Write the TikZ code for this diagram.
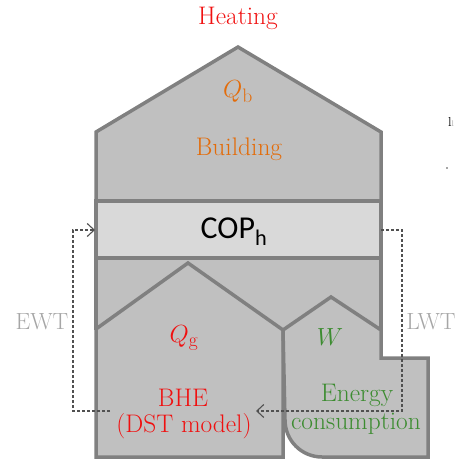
\documentclass[tikz,border=0pt]{standalone}
\usepackage{fontspec}
\usetikzlibrary{arrows.meta}
\newfontfamily\copfont{Carlito}
\definecolor{wallgray}{HTML}{808080}
\definecolor{fillgray}{HTML}{C0C0C0}
\definecolor{copgray}{HTML}{D9D9D9}
\definecolor{orng}{HTML}{E36C0A}
\definecolor{redt}{HTML}{F01010}
\definecolor{greent}{HTML}{3C8C30}
\definecolor{lablgray}{HTML}{A6A6A6}
\definecolor{dashgray}{HTML}{505050}
\tikzset{
  wall/.style={draw=wallgray, line width=3.5bp, line join=miter, fill=fillgray},
  flow/.style={draw=dashgray, line width=1.1bp, dash pattern=on 3bp off 2bp},
  tip/.style={-{Straight Barb[length=7bp,width=13bp,line width=1.1bp]}},
  lbl/.style={inner sep=0pt, font=\fontsize{25.5}{30}\selectfont},
  sidelbl/.style={inner sep=0pt, font=\fontsize{23.5}{28}\selectfont, text=lablgray},
  mathlbl/.style={inner sep=0pt, font=\fontsize{28}{32}\selectfont},
}
\begin{document}
\begin{tikzpicture}[x=1bp,y=-1bp]
\useasboundingbox (0,0) rectangle (468,460);
% lower band
\fill[fillgray] (96,257) rectangle (381,331);
% BHE house
\path[wall] (96,329) -- (188,263) -- (283,330) -- (283,457) -- (96,457) -- cycle;
% W house
\path[wall] (283,330) -- (331,297) -- (381,330) -- (381,358) -- (428,358) -- (428,457) -- (322,457) arc[start angle=90,end angle=180,radius=37] -- cycle;
% outer side walls of lower band
\draw[draw=wallgray, line width=3.5bp] (96,257) -- (96,330);
\draw[draw=wallgray, line width=3.5bp] (381,257) -- (381,331);
% building
\path[wall] (96,201) -- (96,132) -- (238,47) -- (381,132) -- (381,201) -- cycle;
% COP box
\path[wall, fill=copgray] (96,201) rectangle (381,258);

% labels
\node[lbl, text=redt] (heating) at (238,18) {Heating};
\node[mathlbl, text=orng] (qb) at (238,92) {$Q_{\mathrm{b}}$};
\node[lbl, text=orng] (building) at (239,149) {Building};
\node[inner sep=0pt, font=\copfont\fontsize{32}{36}\selectfont] (cop) at (234,232) {COP\textsubscript{h}};
\node[mathlbl, text=redt] (qg) at (184,338) {$Q_{\mathrm{g}}$};
\node[mathlbl, text=greent] (w) at (330,337) {$W$};
\node[lbl, text=redt] (bhe) at (183,398) {BHE};
\node[lbl, text=redt] (dst) at (184,426) {(DST model)};
\node[lbl, text=greent] (energy) at (357,395) {Energy};
\node[lbl, text=greent] (cons) at (356,424) {consumption};
\node[sidelbl] (ewt) at (42,322) {EWT};
\node[sidelbl] (lwt) at (431,322) {LWT};
\node[inner sep=0pt, font=\fontsize{13}{13}\selectfont] (frag) at (451,122) {l\textcolor{lablgray}{\fontsize{8}{8}\selectfont l}};
\node[fill=lablgray, inner sep=0pt, minimum size=1.5bp] (dot) at (447,168) {};

% flows
\coordinate (ewtA) at (110,411);
\coordinate (ewtB) at (73,411);
\coordinate (ewtC) at (73,230);
\coordinate (ewtD) at (95,230);
\coordinate (lwtA) at (381,230);
\coordinate (lwtB) at (402,230);
\coordinate (lwtC) at (402,411);
\coordinate (lwtD) at (256,411);
\draw[flow, tip] (ewtA) -- (ewtB) -- (ewtC) -- (ewtD);
\draw[flow, tip] (lwtA) -- (lwtB) -- (lwtC) -- (lwtD);
\end{tikzpicture}
\end{document}
